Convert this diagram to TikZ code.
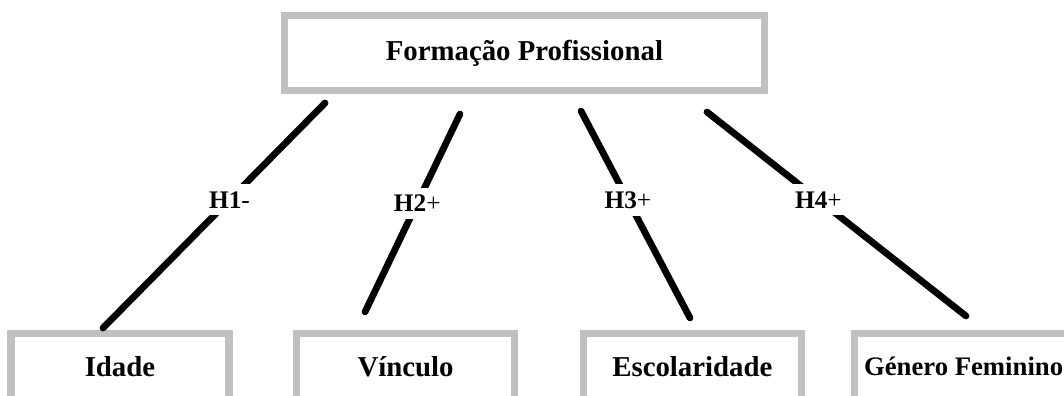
\documentclass[tikz,border=0pt]{standalone}
\usepackage{fontspec}
\setmainfont{Liberation Serif}
\definecolor{boxgray}{RGB}{192,192,192}

\begin{document}
\begin{tikzpicture}[line cap=round]
      \tikzstyle{every node}=[font=\bfseries\fontsize{20.5}{24}\selectfont]
      \tikzstyle{box}=[draw=boxgray, line width=5pt, minimum width=5.45cm, minimum height=1.65cm]
      \tikzstyle{hyp}=[fill=white, inner sep=5pt, font=\bfseries\fontsize{18}{20}\selectfont]
      \tikzstyle{link}=[line width=4.8pt]
      \useasboundingbox (0, 0) rectangle (26.6, 9.9);
      \node [box, minimum width=12cm, minimum height=1.875cm] (fp) at (13.11, 8.575) {Formação Profissional};
      \node [box] (id) at (3.0, 0.74) {Idade};
      \node [box] (vi) at (10.14, 0.74) {Vínculo};
      \node [box] (es) at (17.31, 0.74) {Escolaridade};
      \node [box, font=\bfseries\fontsize{19}{22}\selectfont] (ge) at (24.09, 0.74) {Género Feminino};
      % free ends of the links
      \coordinate (fp1) at (8.125, 7.325);
      \coordinate (fp2) at (11.5, 7.05);
      \coordinate (fp3) at (14.525, 7.125);
      \coordinate (fp4) at (17.675, 7.1);
      \coordinate (id1) at (2.575, 1.7);
      \coordinate (vi1) at (9.125, 2.1);
      \coordinate (es1) at (17.25, 1.95);
      \coordinate (ge1) at (24.15, 2.0);
      \draw[link] (fp1) -- node[hyp, pos=.43] {H1{\mdseries -}} (id1);
      \draw[link] (fp2) -- node[hyp, pos=.45] {H2{\mdseries +}} (vi1);
      \draw[link] (fp3) -- node[hyp, pos=.43] {H3{\mdseries +}} (es1);
      \draw[link] (fp4) -- node[hyp, pos=.43] {H4{\mdseries +}} (ge1);
    \end{tikzpicture}
\end{document}
